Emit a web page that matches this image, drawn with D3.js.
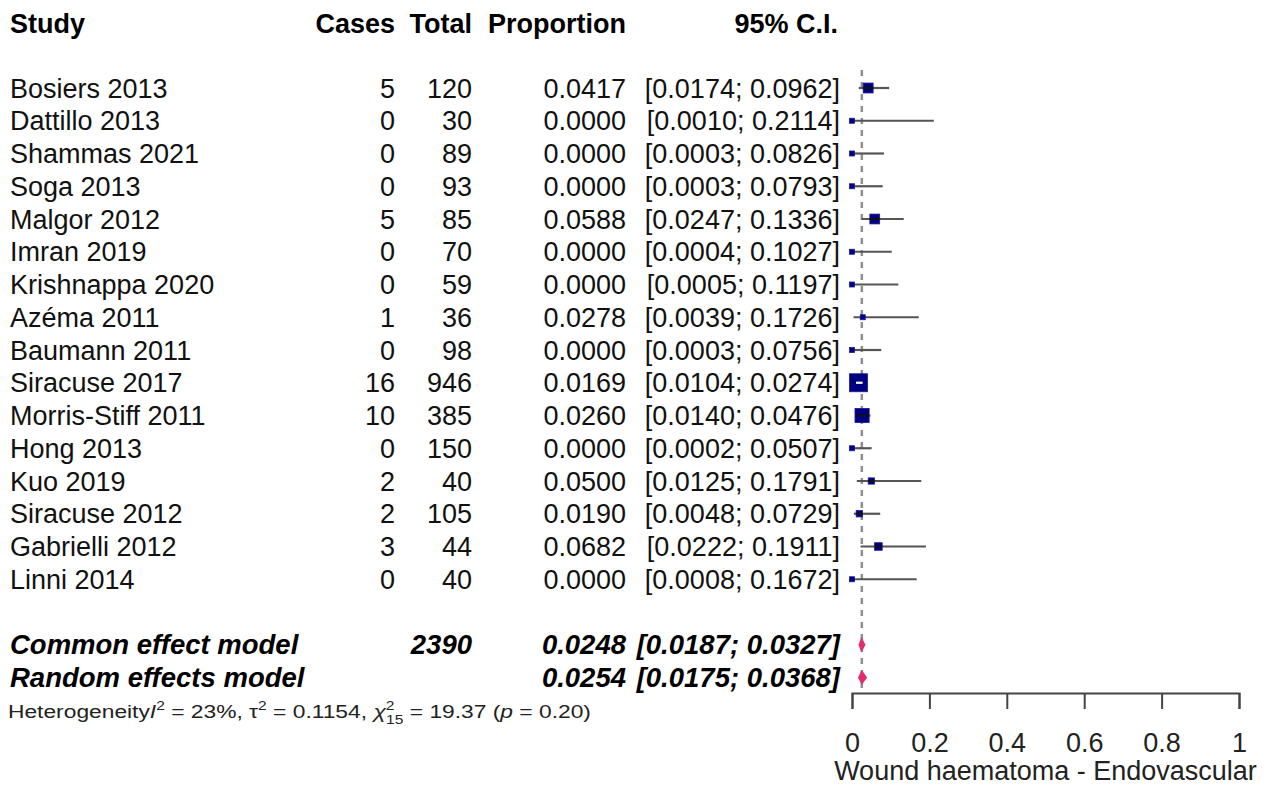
<!DOCTYPE html>
<html>
<head>
<meta charset="utf-8">
<script src="https://cdn.jsdelivr.net/npm/d3@7"></script>
<style>
  html, body { margin: 0; padding: 0; background: #fff; }
  svg { display: block; font-family: "Liberation Sans", Arial, Helvetica, sans-serif; }
</style>
</head>
<body>
<svg id="chart" width="1269" height="789"></svg>
<script>
// Individual studies
const studies = ["Bosiers 2013", "Dattillo 2013", "Shammas 2021", "Soga 2013", "Malgor 2012",
  "Imran 2019", "Krishnappa 2020", "Azéma 2011", "Baumann 2011", "Siracuse 2017",
  "Morris-Stiff 2011", "Hong 2013", "Kuo 2019", "Siracuse 2012", "Gabrielli 2012", "Linni 2014"];
const cases = [5, 0, 0, 0, 5, 0, 0, 1, 0, 16, 10, 0, 2, 2, 3, 0];
const totals = [120, 30, 89, 93, 85, 70, 59, 36, 98, 946, 385, 150, 40, 105, 44, 40];
const proportions = [0.0417, 0.0000, 0.0000, 0.0000, 0.0588, 0.0000, 0.0000, 0.0278, 0.0000,
  0.0169, 0.0260, 0.0000, 0.0500, 0.0190, 0.0682, 0.0000];
const ciLower = [0.0174, 0.0010, 0.0003, 0.0003, 0.0247, 0.0004, 0.0005, 0.0039, 0.0003,
  0.0104, 0.0140, 0.0002, 0.0125, 0.0048, 0.0222, 0.0008];
const ciUpper = [0.0962, 0.2114, 0.0826, 0.0793, 0.1336, 0.1027, 0.1197, 0.1726, 0.0756,
  0.0274, 0.0476, 0.0507, 0.1791, 0.0729, 0.1911, 0.1672];
// study weights (%), common effect model
const weights = [10.3, 1.1, 1.1, 1.1, 10.1, 1.1, 1.1, 2.1, 1.1, 33.8, 20.9, 1.1, 4.1, 4.2, 6.0, 1.0];

// Pooled estimates
const models = ["Common effect model", "Random effects model"];
const modelTotals = ["2390", ""];
const modelEst = [0.0248, 0.0254];
const modelLower = [0.0187, 0.0175];
const modelUpper = [0.0327, 0.0368];

const headers = ["Study", "Cases", "Total", "Proportion", "95% C.I."];
const xTicks = [0, 0.2, 0.4, 0.6, 0.8, 1];
const xTitle = "Wound haematoma - Endovascular";

const svg = d3.select("#chart");
const fmt = d3.format(".4f");

// layout
const colCases = 395, colTotal = 472, colProp = 626, colCI = 840, colStudy = 10;
const x = d3.scaleLinear().domain([0, 1]).range([852, 1239]);
const y = d3.scaleLinear().domain([0, 1]).range([88, 88 + 32.75]);
const side = d3.scaleSqrt().domain([0, 33.8]).range([0, 18]);
const refValue = modelEst[1];

const fs = 27;
const base = 9.5;

// header
const hdr = svg.append("g").attr("font-weight", "bold").attr("font-size", 27).attr("fill", "#000");
hdr.append("text").attr("x", colStudy).attr("y", 33).text(headers[0]);
[[colCases, 1], [colTotal, 2], [colProp, 3], [colCI - 2, 4]].forEach(([cx, i]) => {
  hdr.append("text").attr("x", cx).attr("y", 33).attr("text-anchor", "end").text(headers[i]);
});

// study text columns
const rows = svg.append("g").attr("font-size", fs).attr("fill", "#111");
studies.forEach((s, i) => {
  const ty = y(i) + base;
  rows.append("text").attr("x", colStudy).attr("y", ty).text(s);
  rows.append("text").attr("x", colCases).attr("y", ty).attr("text-anchor", "end").text(cases[i]);
  rows.append("text").attr("x", colTotal).attr("y", ty).attr("text-anchor", "end").text(totals[i]);
  rows.append("text").attr("x", colProp).attr("y", ty).attr("text-anchor", "end").text(fmt(proportions[i]));
  rows.append("text").attr("x", colCI).attr("y", ty).attr("text-anchor", "end")
    .text("[" + fmt(ciLower[i]) + "; " + fmt(ciUpper[i]) + "]");
});

// pooled text rows
const mrows = svg.append("g").attr("font-size", 27.5).attr("font-weight", "bold")
  .attr("font-style", "italic").attr("fill", "#000");
models.forEach((m, j) => {
  const ty = y(17 + j) + base;
  mrows.append("text").attr("x", colStudy).attr("y", ty).text(m);
  mrows.append("text").attr("x", colTotal).attr("y", ty).attr("text-anchor", "end").text(modelTotals[j]);
  mrows.append("text").attr("x", colProp).attr("y", ty).attr("text-anchor", "end").text(fmt(modelEst[j]));
  mrows.append("text").attr("x", colCI).attr("y", ty).attr("text-anchor", "end")
    .text("[" + fmt(modelLower[j]) + "; " + fmt(modelUpper[j]) + "]");
});

// heterogeneity statistics (slightly widened glyphs)
const het = svg.append("text").attr("transform", "translate(8,718) scale(1.2,1)")
  .attr("font-size", 19).attr("fill", "#222");
het.append("tspan").text("Heterogeneity");
het.append("tspan").attr("font-style", "italic").text("I");
het.append("tspan").attr("font-size", 13).attr("dy", -8).text("2");
het.append("tspan").attr("dy", 8).text(" = 23%, τ");
het.append("tspan").attr("font-size", 13).attr("dy", -8).text("2");
het.append("tspan").attr("dy", 8).text(" = 0.1154, ");
het.append("tspan").attr("font-style", "italic").text("χ");
het.append("tspan").attr("font-size", 13).attr("dy", -8).text("2");
het.append("tspan").attr("font-size", 13).attr("dx", -7).attr("dy", 14).text("15");
het.append("tspan").attr("dy", -6).text(" = 19.37 (");
het.append("tspan").attr("font-style", "italic").text("p");
het.append("tspan").text(" = 0.20)");

// reference line at the pooled estimate
svg.append("line")
  .attr("x1", x(refValue)).attr("x2", x(refValue))
  .attr("y1", 70).attr("y2", 692)
  .attr("stroke", "#8f8f8f").attr("stroke-width", 2.5).attr("stroke-dasharray", "6,6");

// study marks
const marks = svg.append("g");
studies.forEach((s, i) => {
  const cy = y(i);
  const w = Math.max(side(weights[i]), 5);
  const cx = x(proportions[i]);
  marks.append("line")
    .attr("x1", x(ciLower[i])).attr("x2", x(ciUpper[i]))
    .attr("y1", cy).attr("y2", cy)
    .attr("stroke", "#555").attr("stroke-width", 2.2);
  marks.append("rect")
    .attr("x", cx - w / 2).attr("y", cy - w / 2)
    .attr("width", w).attr("height", w)
    .attr("fill", "#00007f").attr("stroke", "#1a1aa0").attr("stroke-width", 0.8);
  const inside = x(ciLower[i]) >= cx - w / 2 && x(ciUpper[i]) <= cx + w / 2;
  if (w > 6) {
    marks.append("line")
      .attr("x1", Math.max(x(ciLower[i]), cx - w / 2)).attr("x2", Math.min(x(ciUpper[i]), cx + w / 2))
      .attr("y1", cy).attr("y2", cy)
      .attr("stroke", inside ? "#fff" : "#111").attr("stroke-width", 2.2);
  }
});

// pooled diamonds
models.forEach((m, j) => {
  const cy = y(17 + j);
  const pts = [[x(modelLower[j]), cy], [x(modelEst[j]), cy - 6], [x(modelUpper[j]), cy], [x(modelEst[j]), cy + 6]];
  svg.append("polygon").attr("points", pts.map(p => p.join(",")).join(" "))
    .attr("fill", "#e0306c").attr("stroke", "#e0306c").attr("stroke-width", 1.5);
});

// x axis
const axis = d3.axisBottom(x).tickValues(xTicks).tickFormat(d3.format("")).tickSize(16).tickPadding(24);
const ax = svg.append("g").attr("transform", "translate(0,693)").call(axis);
ax.select(".domain").attr("stroke", "#444").attr("stroke-width", 2);
ax.selectAll(".tick line").attr("stroke", "#444").attr("stroke-width", 2);
ax.selectAll(".tick text").attr("font-size", 27).attr("fill", "#222")
  .attr("font-family", "\"Liberation Sans\", Arial, sans-serif");

svg.append("text").attr("x", x(0.5)).attr("y", 780).attr("text-anchor", "middle")
  .attr("font-size", 27).attr("fill", "#222").text(xTitle);
</script>
</body>
</html>
